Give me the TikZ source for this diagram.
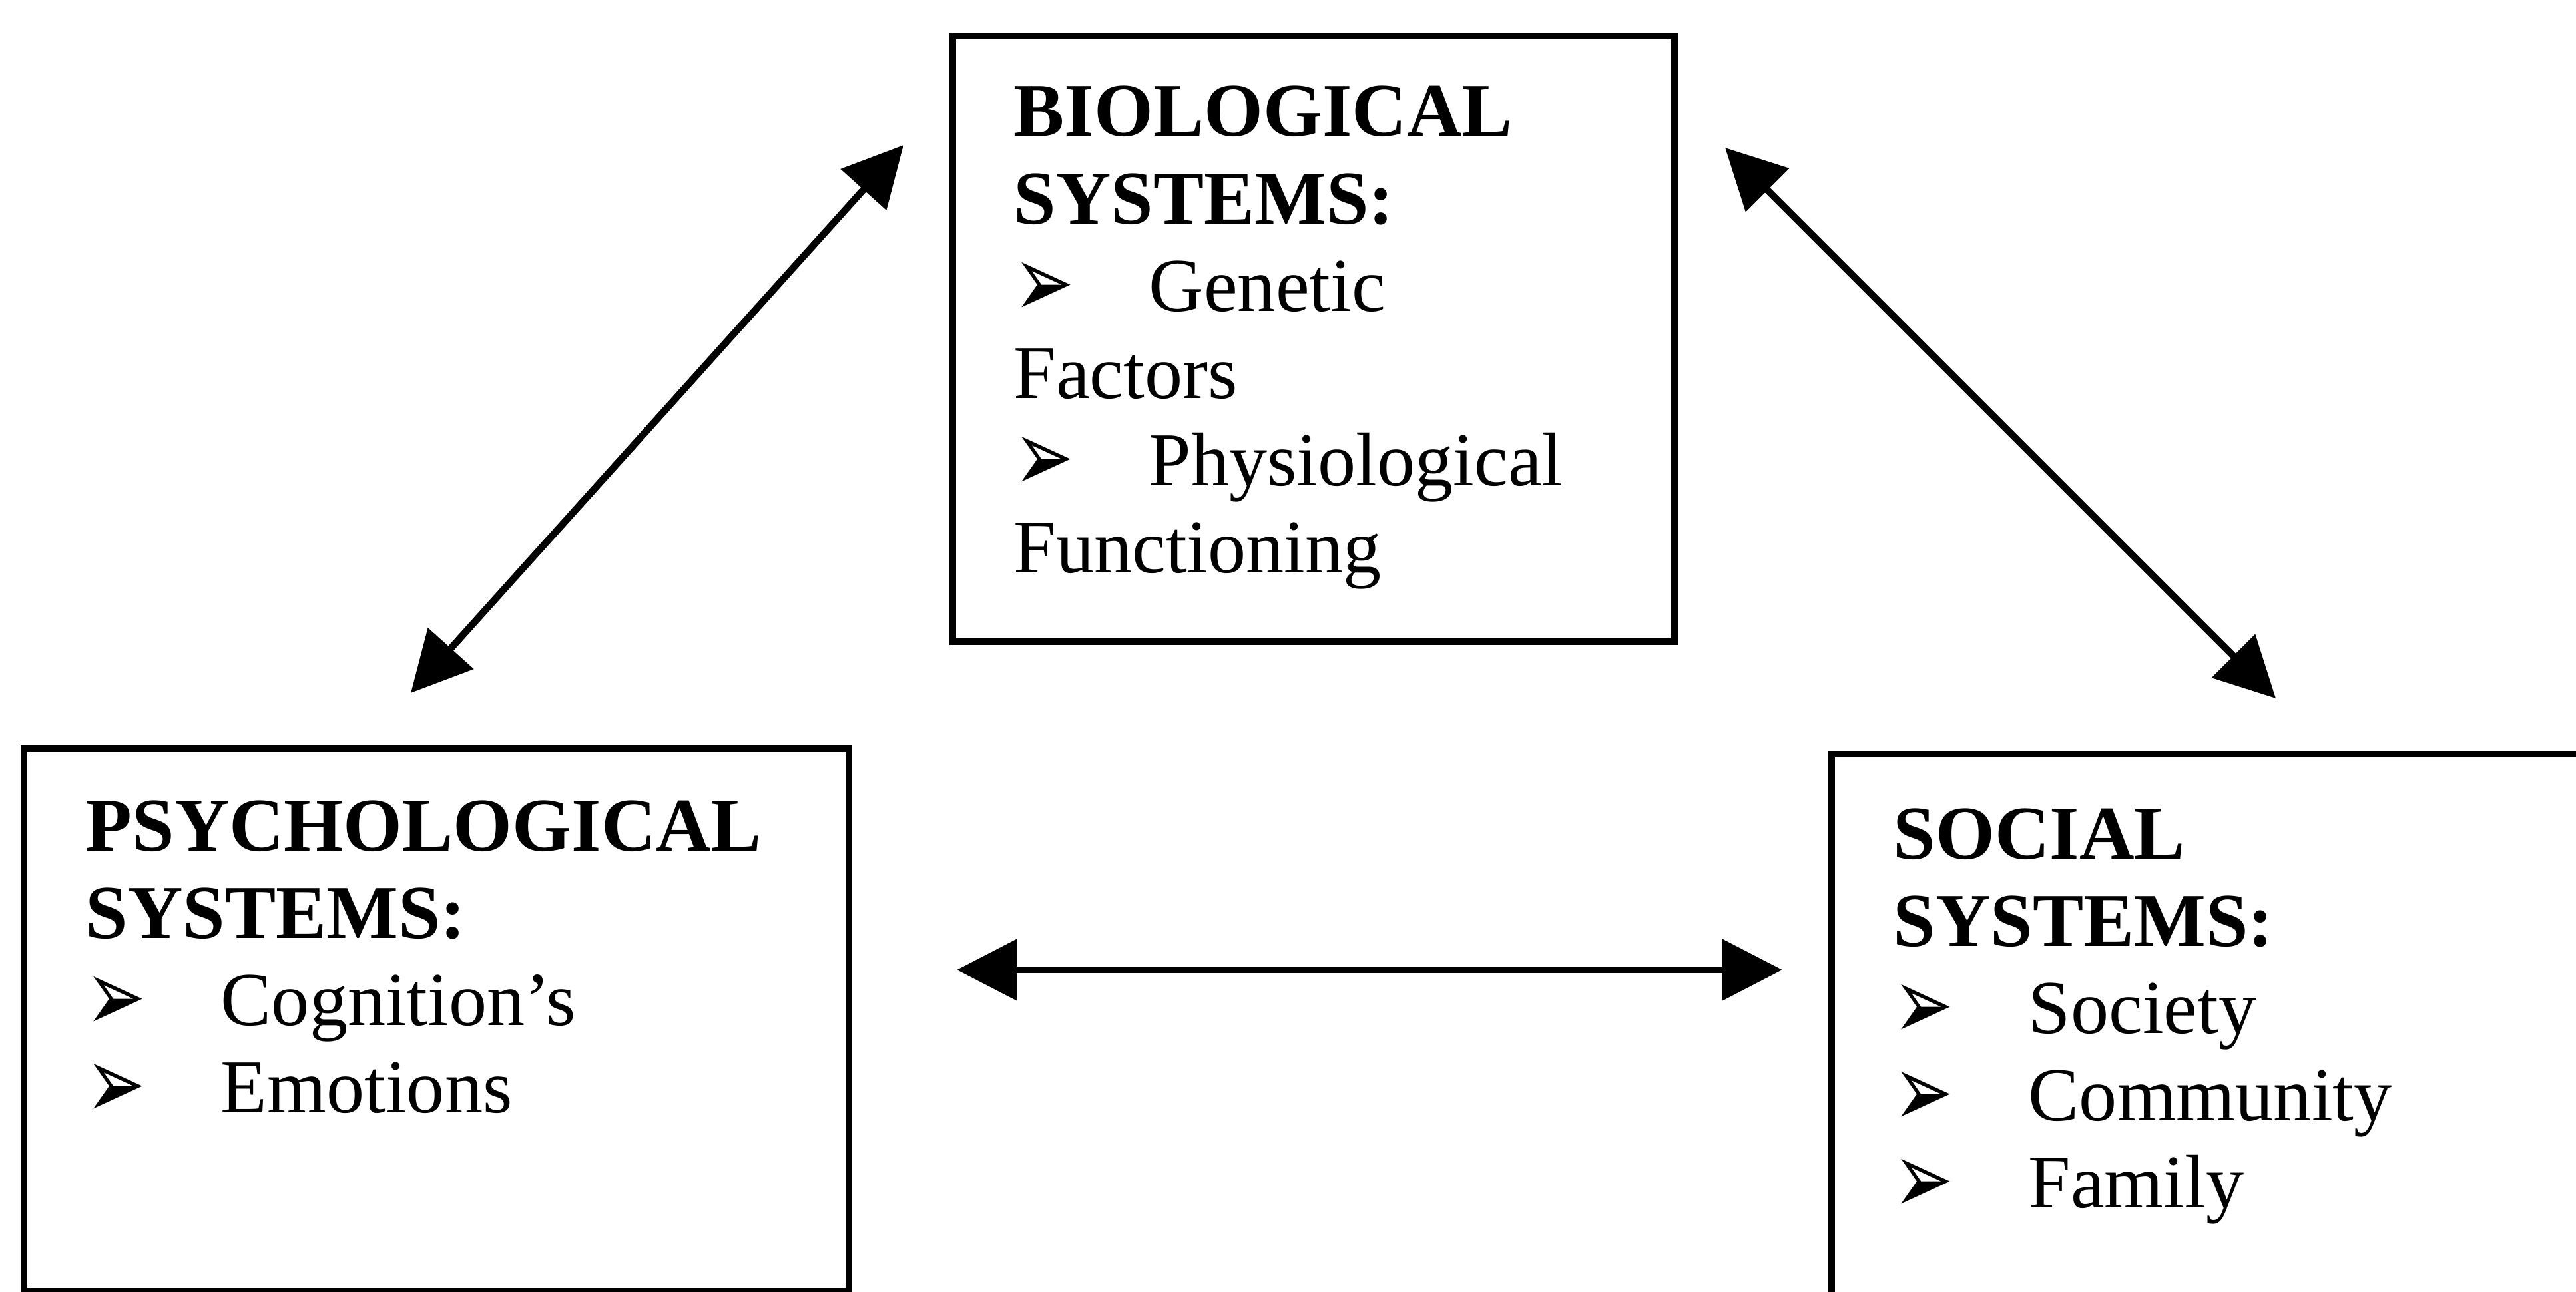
\documentclass[tikz,border=0pt]{standalone}
\usepackage{fontspec}
\setmainfont{Liberation Serif}
\newfontfamily\dingfont{DejaVu Sans}
\usetikzlibrary{arrows.meta}
\newcommand{\bul}{\makebox[2.03cm][l]{\raisebox{-0.08em}[0pt][0pt]{\scalebox{0.95}[1.35]{\dingfont\symbol{"27A2}}}}}

\begin{document}
\begin{tikzpicture}
\tikzstyle{sysbox}=[draw, line width=3pt, outer sep=0pt, anchor=north west]
\tikzstyle{systext}=[anchor=base west, inner sep=0pt, font=\fontsize{32.5}{37.3}\selectfont]
\tikzstyle{link}=[{Triangle[length=0.9cm,width=0.9cm]}-{Triangle[length=0.9cm,width=0.9cm]}, line width=3pt]
\useasboundingbox (0,0) rectangle (38.69,-19.40);
% the three boxes
\node (bio) [sysbox, minimum width=10.84cm, minimum height=9.1cm] at (14.31,-0.54) {};
\node (psy) [sysbox, minimum width=12.39cm, minimum height=8.16cm] at (0.36,-11.24) {};
\node (soc) [sysbox, minimum width=12cm, minimum height=9cm] at (27.51,-11.33) {};
\node (biotxt) [systext] at (15.22,-2.05) {\begin{tabular}[t]{@{}l@{}}
\textbf{BIOLOGICAL}\\ \textbf{SYSTEMS:}\\ \bul Genetic\\ Factors\\ \bul Physiological\\ Functioning
\end{tabular}};
\node (psytxt) [systext] at (1.28,-12.78) {\begin{tabular}[t]{@{}l@{}}
\textbf{PSYCHOLOGICAL}\\ \textbf{SYSTEMS:}\\ \bul Cognition’s\\ \bul Emotions
\end{tabular}};
\node (soctxt) [systext] at (28.43,-12.90) {\begin{tabular}[t]{@{}l@{}}
\textbf{SOCIAL}\\ \textbf{SYSTEMS:}\\ \bul Society\\ \bul Community\\ \bul Family
\end{tabular}};
% arrow ends
\coordinate (bioL) at (13.57,-2.18);
\coordinate (bioR) at (25.91,-2.22);
\coordinate (psyT) at (6.17,-10.41);
\coordinate (psyR) at (14.37,-14.57);
\coordinate (socT) at (34.18,-10.49);
\coordinate (socL) at (26.77,-14.57);
\draw[link] (psyT) -- (bioL);
\draw[link] (bioR) -- (socT);
\draw[link] (psyR) -- (socL);
\end{tikzpicture}
\end{document}
